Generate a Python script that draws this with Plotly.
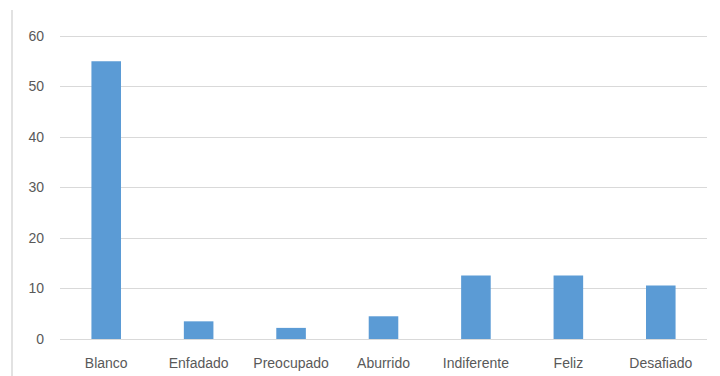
import plotly.graph_objects as go

categories = ["Blanco", "Enfadado", "Preocupado", "Aburrido", "Indiferente", "Feliz", "Desafiado"]
values = [55, 3.5, 2.2, 4.5, 12.6, 12.6, 10.6]
y_ticks = [0, 10, 20, 30, 40, 50, 60]

fig = go.Figure(go.Bar(x=categories, y=values, marker=dict(color="#5b9bd5", line=dict(width=0))))

fig.update_layout(
    width=720, height=376,
    margin=dict(l=60, r=13, t=31, b=37, autoexpand=False),
    paper_bgcolor="white", plot_bgcolor="white",
    bargap=0.68,
    showlegend=False,
    font=dict(family="Liberation Sans, Arial, sans-serif", size=14, color="#595959"),
    xaxis=dict(showgrid=False, showline=False, ticks="", ticklabelstandoff=14, automargin=False,
               tickfont=dict(size=14, color="#595959")),
    yaxis=dict(range=[0, 61], tickvals=y_ticks, showgrid=True, gridcolor="#d9d9d9", gridwidth=1,
               zeroline=True, zerolinecolor="#d9d9d9", zerolinewidth=1, showline=False, automargin=False,
               ticks="", ticklabelstandoff=15, tickfont=dict(size=14, color="#595959")),
    shapes=[dict(type="line", xref="paper", yref="paper", xsizemode="pixel", xanchor=0,
                 ysizemode="pixel", yanchor=0,
                 x0=-48, x1=-48, y0=-37, y1=329, line=dict(color="#d9d9d9", width=1.5))],
)

fig.write_html("out.html")
